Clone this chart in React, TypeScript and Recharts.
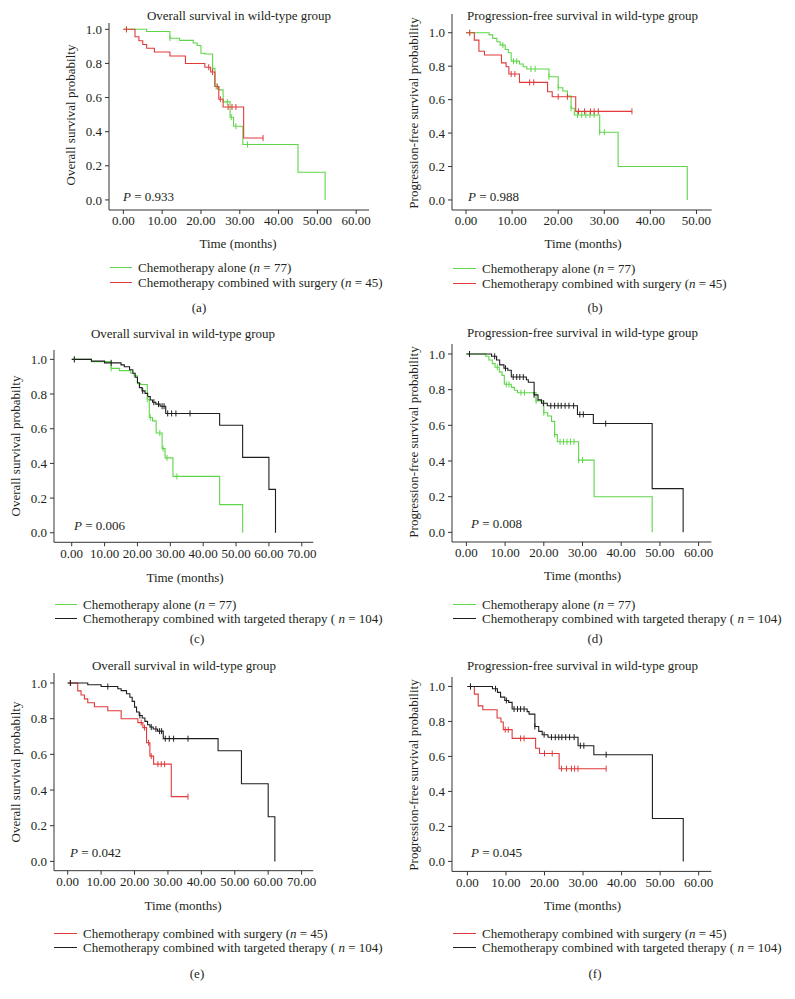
import React from 'react';
import { LineChart, Line, XAxis, YAxis } from 'recharts';

// Kaplan-Meier steps: [time (months), survival, censored]
type Step = [number, number, number];

const osAlone: Step[] = [
  [0, 1, 0], [0.8, 1, 1], [6, 0.987, 0], [12, 0.948, 1], [14.5, 0.935, 0], [18, 0.92, 0],
  [19, 0.905, 0], [20, 0.86, 0], [21, 0.855, 0], [23, 0.77, 1], [23.6, 0.665, 0], [23.9, 0.665, 1],
  [24.6, 0.645, 0], [25.7, 0.575, 0], [26.8, 0.575, 1], [27.5, 0.485, 0], [27.8, 0.485, 1],
  [28.4, 0.432, 0], [29, 0.432, 1], [30.8, 0.325, 0], [32, 0.325, 1], [45, 0.162, 0], [52, 0, 0],
];

const osSurgery: Step[] = [
  [0, 1, 0], [0.8, 1, 1], [3, 0.956, 0], [4, 0.933, 0], [5, 0.911, 0], [6, 0.889, 0], [8, 0.867, 0],
  [12, 0.844, 0], [16, 0.8, 0], [21, 0.778, 0], [22, 0.778, 1], [22.5, 0.75, 0], [23, 0.75, 1],
  [23.6, 0.665, 0], [24.2, 0.665, 1], [24.6, 0.59, 0], [25, 0.59, 1], [25.7, 0.545, 0],
  [27, 0.545, 1], [28, 0.545, 1], [29, 0.545, 1], [31, 0.363, 0], [36, 0.363, 1],
];

const osTargeted: Step[] = [
  [0, 1, 0], [0.8, 1, 1], [6, 0.99, 0], [10, 0.98, 0], [12, 0.98, 1], [15, 0.968, 0], [16, 0.957, 0],
  [17.6, 0.94, 0], [18.6, 0.92, 0], [19.3, 0.897, 0], [20, 0.865, 0], [20.6, 0.837, 0],
  [21.4, 0.818, 0], [21.6, 0.818, 1], [22.3, 0.804, 0], [23.1, 0.785, 0], [23.9, 0.766, 0],
  [24.6, 0.753, 0], [25, 0.753, 1], [25.6, 0.742, 0], [26.4, 0.742, 1], [26.9, 0.73, 0],
  [27.5, 0.73, 1], [28.1, 0.73, 1], [28.6, 0.688, 0], [29.2, 0.688, 1], [30.4, 0.688, 1],
  [31.7, 0.688, 1], [36, 0.688, 1], [45, 0.62, 0], [52, 0.435, 0], [60, 0.25, 0], [62, 0, 0],
];

const pfsAlone: Step[] = [
  [0, 1, 0], [0.8, 1, 1], [5, 0.987, 0], [5.8, 0.966, 0], [6.7, 0.946, 0], [7.4, 0.926, 0],
  [8, 0.926, 1], [8.5, 0.9, 0], [9.2, 0.88, 0], [9.8, 0.83, 0], [10.3, 0.83, 1], [11, 0.83, 1],
  [11.6, 0.813, 0], [12.4, 0.797, 0], [13.2, 0.783, 0], [14.1, 0.783, 1], [15, 0.783, 1],
  [18, 0.737, 1], [20, 0.671, 1], [21, 0.652, 0], [22, 0.622, 0], [22.8, 0.548, 1],
  [23.5, 0.508, 0], [24.2, 0.508, 1], [25.1, 0.508, 1], [26, 0.508, 1], [26.9, 0.508, 1],
  [27.8, 0.508, 1], [29, 0.405, 1], [30, 0.405, 1], [33, 0.2, 0], [48, 0, 0],
];

const pfsSurgery: Step[] = [
  [0, 1, 0], [0.8, 1, 1], [1.8, 0.956, 0], [2.8, 0.889, 0], [4, 0.867, 0], [7.7, 0.82, 0],
  [8.7, 0.797, 0], [9.3, 0.753, 0], [9.8, 0.753, 1], [10.6, 0.753, 1], [11.6, 0.703, 0],
  [13.8, 0.703, 1], [14.7, 0.703, 1], [17.7, 0.647, 0], [18.7, 0.617, 0], [20, 0.617, 1],
  [22, 0.617, 1], [23.8, 0.53, 0], [24.4, 0.53, 1], [25.7, 0.53, 1], [27, 0.53, 1],
  [27.8, 0.53, 1], [28.7, 0.53, 1], [36, 0.53, 1],
];

const pfsTargeted: Step[] = [
  [0, 1, 0], [0.8, 1, 1], [6.5, 0.987, 0], [7.3, 0.987, 1], [7.8, 0.966, 0], [8.6, 0.939, 0],
  [9.7, 0.92, 0], [10.1, 0.92, 1], [10.7, 0.909, 0], [11.6, 0.871, 0], [12.1, 0.871, 1],
  [13, 0.871, 1], [13.8, 0.871, 1], [14.7, 0.871, 1], [15.5, 0.856, 0], [16, 0.842, 0],
  [17.5, 0.771, 1], [18.5, 0.743, 0], [19.4, 0.724, 0], [19.9, 0.724, 1], [20.9, 0.71, 0],
  [21.8, 0.71, 1], [22.8, 0.71, 1], [23.7, 0.71, 1], [24.5, 0.71, 1], [25.5, 0.71, 1],
  [26.5, 0.71, 1], [27.7, 0.71, 1], [28.7, 0.661, 0], [29.3, 0.661, 1], [30.2, 0.661, 1],
  [32.8, 0.61, 0], [36, 0.61, 1], [48, 0.245, 0], [56, 0, 0],
];

const yTicks = [0, 0.2, 0.4, 0.6, 0.8, 1.0];
const xTicks60 = [0, 10, 20, 30, 40, 50, 60];
const xTicks50 = [0, 10, 20, 30, 40, 50];
const xTicks70 = [0, 10, 20, 30, 40, 50, 60, 70];

const osTitle = 'Overall survival in wild-type group';
const pfsTitle = 'Progression-free survival in wild-type group';
const osYLabel = 'Overall survival probabilty';
const pfsYLabel = 'Progression-free survival probability';
const pValues = ['0.933', '0.988', '0.006', '0.008', '0.042', '0.045'];

const GREEN = '#5fd64a';
const RED = '#e03a3a';
const BLACK = '#1e1e1e';
const INK = '#231f20';
const FONT = '"Liberation Serif", "Times New Roman", serif';

const groups = {
  alone: { name: 'Chemotherapy alone', n: '(', nv: '77)', color: GREEN },
  surgery: { name: 'Chemotherapy combined with surgery', n: '(', nv: '45)', color: RED },
  targeted: { name: 'Chemotherapy combined with targeted therapy', n: '( ', nv: '104)', color: BLACK },
};

const toRows = (steps: Step[]) => steps.map(([t, s, c]) => ({ t, s, c }));

// layout of each panel (pixels on the page)
const panels = [
  {
    tag: '(a)', title: osTitle, yLabel: osYLabel, p: pValues[0],
    series: [{ g: groups.alone, d: osAlone }, { g: groups.surgery, d: osSurgery }],
    box: { l: 109, r: 369, t: 23, b: 210 }, xDomain: [-3.7, 63.3], xTicks: xTicks60, yDomain: [-0.059, 1.037],
    titleAt: [239, 15], yLabAt: [70, 115], xLabAt: [238, 243], pAt: [123, 196],
    legend: { x: 110, y: 267, gap: 15, textX: 138 }, tagAt: [199, 307],
  },
  {
    tag: '(b)', title: pfsTitle, yLabel: pfsYLabel, p: pValues[1],
    series: [{ g: groups.alone, d: pfsAlone }, { g: groups.surgery, d: pfsSurgery }],
    box: { l: 452, r: 711.7, t: 14, b: 210 }, xDomain: [-3.04, 53.3], xTicks: xTicks50, yDomain: [-0.06, 1.112],
    titleAt: [582.5, 15], yLabAt: [413, 113], xLabAt: [583, 243], pAt: [468, 196],
    legend: { x: 453, y: 268, gap: 15, textX: 482 }, tagAt: [595, 307],
  },
  {
    tag: '(c)', title: osTitle, yLabel: osYLabel, p: pValues[2],
    series: [{ g: groups.alone, d: osAlone }, { g: groups.targeted, d: osTargeted }],
    box: { l: 54, r: 313.3, t: 350, b: 542.3 }, xDomain: [-5.39, 73.5], xTicks: xTicks70, yDomain: [-0.055, 1.054],
    titleAt: [183, 333], yLabAt: [15, 446], xLabAt: [185, 577], pAt: [74, 525],
    legend: { x: 55, y: 603.5, gap: 14, textX: 83 }, tagAt: [197, 638],
  },
  {
    tag: '(d)', title: pfsTitle, yLabel: pfsYLabel, p: pValues[3],
    series: [{ g: groups.alone, d: pfsAlone }, { g: groups.targeted, d: pfsTargeted }],
    box: { l: 452.3, r: 711.7, t: 344.3, b: 542.3 }, xDomain: [-3.72, 63.3], xTicks: xTicks60, yDomain: [-0.054, 1.056],
    titleAt: [582.5, 331.7], yLabAt: [413, 442], xLabAt: [582.5, 575], pAt: [471, 523.3],
    legend: { x: 453, y: 603.5, gap: 14, textX: 482 }, tagAt: [595, 638],
  },
  {
    tag: '(e)', title: osTitle, yLabel: osYLabel, p: pValues[4],
    series: [{ g: groups.surgery, d: osSurgery }, { g: groups.targeted, d: osTargeted }],
    box: { l: 54, r: 313.3, t: 673.3, b: 871 }, xDomain: [-4.1, 73.5], xTicks: xTicks70, yDomain: [-0.052, 1.056],
    titleAt: [184, 665], yLabAt: [15, 772], xLabAt: [183, 905], pAt: [70, 851.7],
    legend: { x: 54, y: 933, gap: 14, textX: 83 }, tagAt: [197, 973],
  },
  {
    tag: '(f)', title: pfsTitle, yLabel: pfsYLabel, p: pValues[5],
    series: [{ g: groups.surgery, d: pfsSurgery }, { g: groups.targeted, d: pfsTargeted }],
    box: { l: 452.3, r: 711.7, t: 677.3, b: 871.7 }, xDomain: [-4.0, 63.3], xTicks: xTicks60, yDomain: [-0.057, 1.054],
    titleAt: [582.5, 665], yLabAt: [413, 775], xLabAt: [582.5, 905], pAt: [471, 851.7],
    legend: { x: 453, y: 933, gap: 14, textX: 482 }, tagAt: [595, 973],
  },
];

const txt = (x: number, y: number, align: 'center' | 'left' = 'center'): React.CSSProperties => ({
  position: 'absolute',
  left: x,
  top: y,
  transform: align === 'center' ? 'translate(-50%, -50%)' : 'translate(0, -50%)',
  whiteSpace: 'nowrap',
  lineHeight: 1,
});

const censorDot = (color: string) => (props: any) => {
  const { cx, cy, payload, index } = props;
  if (!payload || !payload.c || cx == null) return <g key={`n-${index}`} />;
  return <line key={`c-${index}`} x1={cx} x2={cx} y1={cy - 3} y2={cy + 3} stroke={color} strokeWidth={1} />;
};

const PAD_L = 60;
const PAD_T = 10;
const PAD_R = 10;
const PAD_B = 30;

function Panel({ cfg }: { cfg: (typeof panels)[number] }) {
  const { box } = cfg;
  const w = box.r - box.l + PAD_L + PAD_R;
  const h = box.b - box.t + PAD_T + PAD_B;
  const tickStyle = { fontSize: 13, fill: INK, fontFamily: FONT };
  return (
    <>
      <div style={{ position: 'absolute', left: box.l - PAD_L, top: box.t - PAD_T }}>
        <LineChart width={w} height={h} margin={{ top: PAD_T, right: PAD_R, left: 0, bottom: 0 }}>
          <XAxis
            type="number"
            dataKey="t"
            domain={cfg.xDomain}
            ticks={cfg.xTicks}
            interval={0}
            allowDataOverflow
            height={PAD_B}
            tickFormatter={(v: number) => v.toFixed(2)}
            tick={tickStyle}
            tickSize={4}
            tickMargin={2}
            axisLine={{ stroke: '#333' }}
            tickLine={{ stroke: '#333' }}
          />
          <YAxis
            type="number"
            dataKey="s"
            domain={cfg.yDomain}
            ticks={yTicks}
            interval={0}
            allowDataOverflow
            width={PAD_L}
            tickFormatter={(v: number) => v.toFixed(1)}
            tick={tickStyle}
            tickSize={4}
            tickMargin={3}
            axisLine={{ stroke: '#333' }}
            tickLine={{ stroke: '#333' }}
          />
          {cfg.series.map((sr, i) => (
            <Line
              key={i}
              data={toRows(sr.d)}
              dataKey="s"
              type="stepAfter"
              stroke={sr.g.color}
              strokeWidth={1.1}
              dot={censorDot(sr.g.color)}
              activeDot={false}
              isAnimationActive={false}
            />
          ))}
        </LineChart>
      </div>
      <div style={txt(cfg.titleAt[0], cfg.titleAt[1])}>{cfg.title}</div>
      <div style={{ ...txt(cfg.yLabAt[0], cfg.yLabAt[1]), transform: 'translate(-50%, -50%) rotate(-90deg)' }}>
        {cfg.yLabel}
      </div>
      <div style={txt(cfg.xLabAt[0], cfg.xLabAt[1])}>Time (months)</div>
      <div style={txt(cfg.pAt[0], cfg.pAt[1], 'left')}>
        <i>P</i> = {cfg.p}
      </div>
      {cfg.series.map((sr, i) => {
        const y = cfg.legend.y + i * cfg.legend.gap;
        return (
          <React.Fragment key={`lg-${i}`}>
            <div
              style={{
                position: 'absolute',
                left: cfg.legend.x,
                top: y,
                width: cfg.legend.textX - cfg.legend.x - 6,
                borderTop: `1px solid ${sr.g.color}`,
              }}
            />
            <div style={txt(cfg.legend.textX, y, 'left')}>
              {sr.g.name} {sr.g.n}
              <i>n</i> = {sr.g.nv}
            </div>
          </React.Fragment>
        );
      })}
      <div style={txt(cfg.tagAt[0], cfg.tagAt[1])}>{cfg.tag}</div>
    </>
  );
}

export default function App() {
  return (
    <div
      style={{
        position: 'absolute',
        left: 0,
        top: 0,
        width: 795,
        height: 999,
        background: '#fff',
        overflow: 'hidden',
        fontFamily: FONT,
        fontSize: 13,
        color: INK,
      }}
    >
      {panels.map((p) => (
        <Panel key={p.tag} cfg={p} />
      ))}
    </div>
  );
}
